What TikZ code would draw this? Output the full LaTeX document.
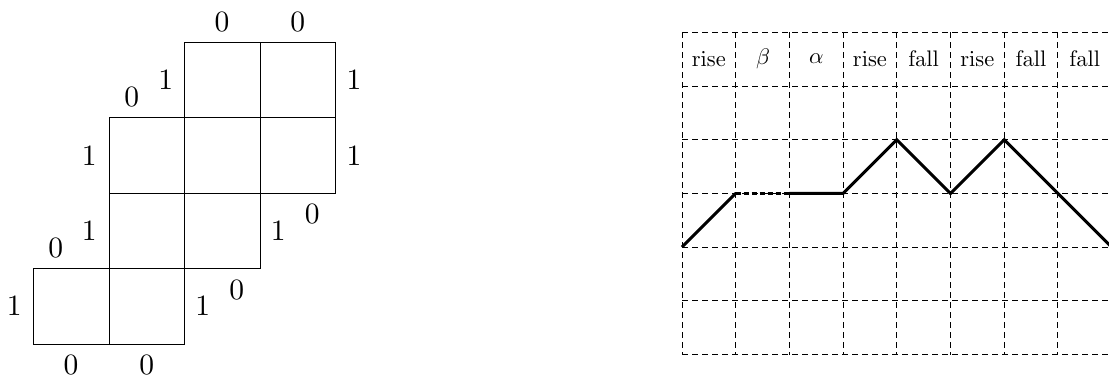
\documentclass[tikz,border=0pt]{standalone}
\font\dfont=cmr10 at 29.5pt
\font\gfont=cmr10 at 22.5pt
\font\gmath=cmmi10 at 22.5pt
\begin{document}
\begin{tikzpicture}[x=1pt,y=-1pt,
  sq/.style={draw=black,line width=0.9pt},
  lbl/.style={inner sep=0pt,font=\dfont},
  glbl/.style={inner sep=0pt,font=\gfont},
  gridln/.style={draw=black,line width=0.9pt,dash pattern=on 6pt off 4pt},
  path/.style={draw=black,line width=3pt,line join=miter}]
\useasboundingbox (0,0) rectangle (1109,380);
% ---------- left figure ----------
\begin{scope}[shift={(33.5,42)},x=75.5pt,y=-75.5pt]
  \draw[sq] (0,3) rectangle (1,4);
  \draw[sq] (1,3) rectangle (2,4);
  \draw[sq] (1,2) rectangle (2,3);
  \draw[sq] (2,2) rectangle (3,3);
  \draw[sq] (1,1) rectangle (2,2);
  \draw[sq] (2,1) rectangle (3,2);
  \draw[sq] (3,1) rectangle (4,2);
  \draw[sq] (2,0) rectangle (3,1);
  \draw[sq] (3,0) rectangle (4,1);
\end{scope}
\node[lbl] (t1) at (222,21.7) {0};
\node[lbl] (t2) at (297.7,21.7) {0};
\node[lbl] (a1) at (165.7,80) {1};
\node[lbl] (a0) at (131.7,96.7) {0};
\node[lbl] (r1) at (354,80) {1};
\node[lbl] (l1) at (89.3,155.7) {1};
\node[lbl] (r2) at (354,155.7) {1};
\node[lbl] (b0) at (312.3,214.3) {0};
\node[lbl] (b1) at (278.3,230.7) {1};
\node[lbl] (l2) at (89.3,230.7) {1};
\node[lbl] (c0) at (55.7,248.3) {0};
\node[lbl] (l3) at (14.3,305.7) {1};
\node[lbl] (d0) at (236.7,290) {0};
\node[lbl] (d1) at (202.7,305.7) {1};
\node[lbl] (u1) at (71,365) {0};
\node[lbl] (u2) at (146.7,365) {0};
% ---------- right figure ----------
\begin{scope}
  \clip (0,0) rectangle (1109,380);
  \begin{scope}[shift={(682,32.3)},x=53.7pt,y=-53.7pt]
    \foreach \i in {0,...,8} \draw[gridln] (\i,0) -- (\i,6);
    \foreach \j in {0,...,6} \draw[gridln] (0,\j) -- (8,\j);
    \foreach \lab [count=\k] in {rise,{\gmath\char"0C},{\gmath\char"0B},rise,fall,rise,fall,fall}
      \node[glbl] (h\k) at (\k-0.5,0.5) {\lab};
    \coordinate (p0) at (0,4);
    \coordinate (p1) at (1,3);
    \coordinate (p2) at (2,3);
    \coordinate (p3) at (3,3);
    \coordinate (p4) at (4,2);
    \coordinate (p5) at (5,3);
    \coordinate (p6) at (6,2);
    \coordinate (p7) at (8,4);
    \draw[path] (p0) -- (p1);
    \draw[path,dash pattern=on 5pt off 3pt] (p1) -- (p2);
    \draw[path] (p2) -- (p3) -- (p4) -- (p5) -- (p6) -- (p7);
  \end{scope}
\end{scope}
\end{tikzpicture}
\end{document}
